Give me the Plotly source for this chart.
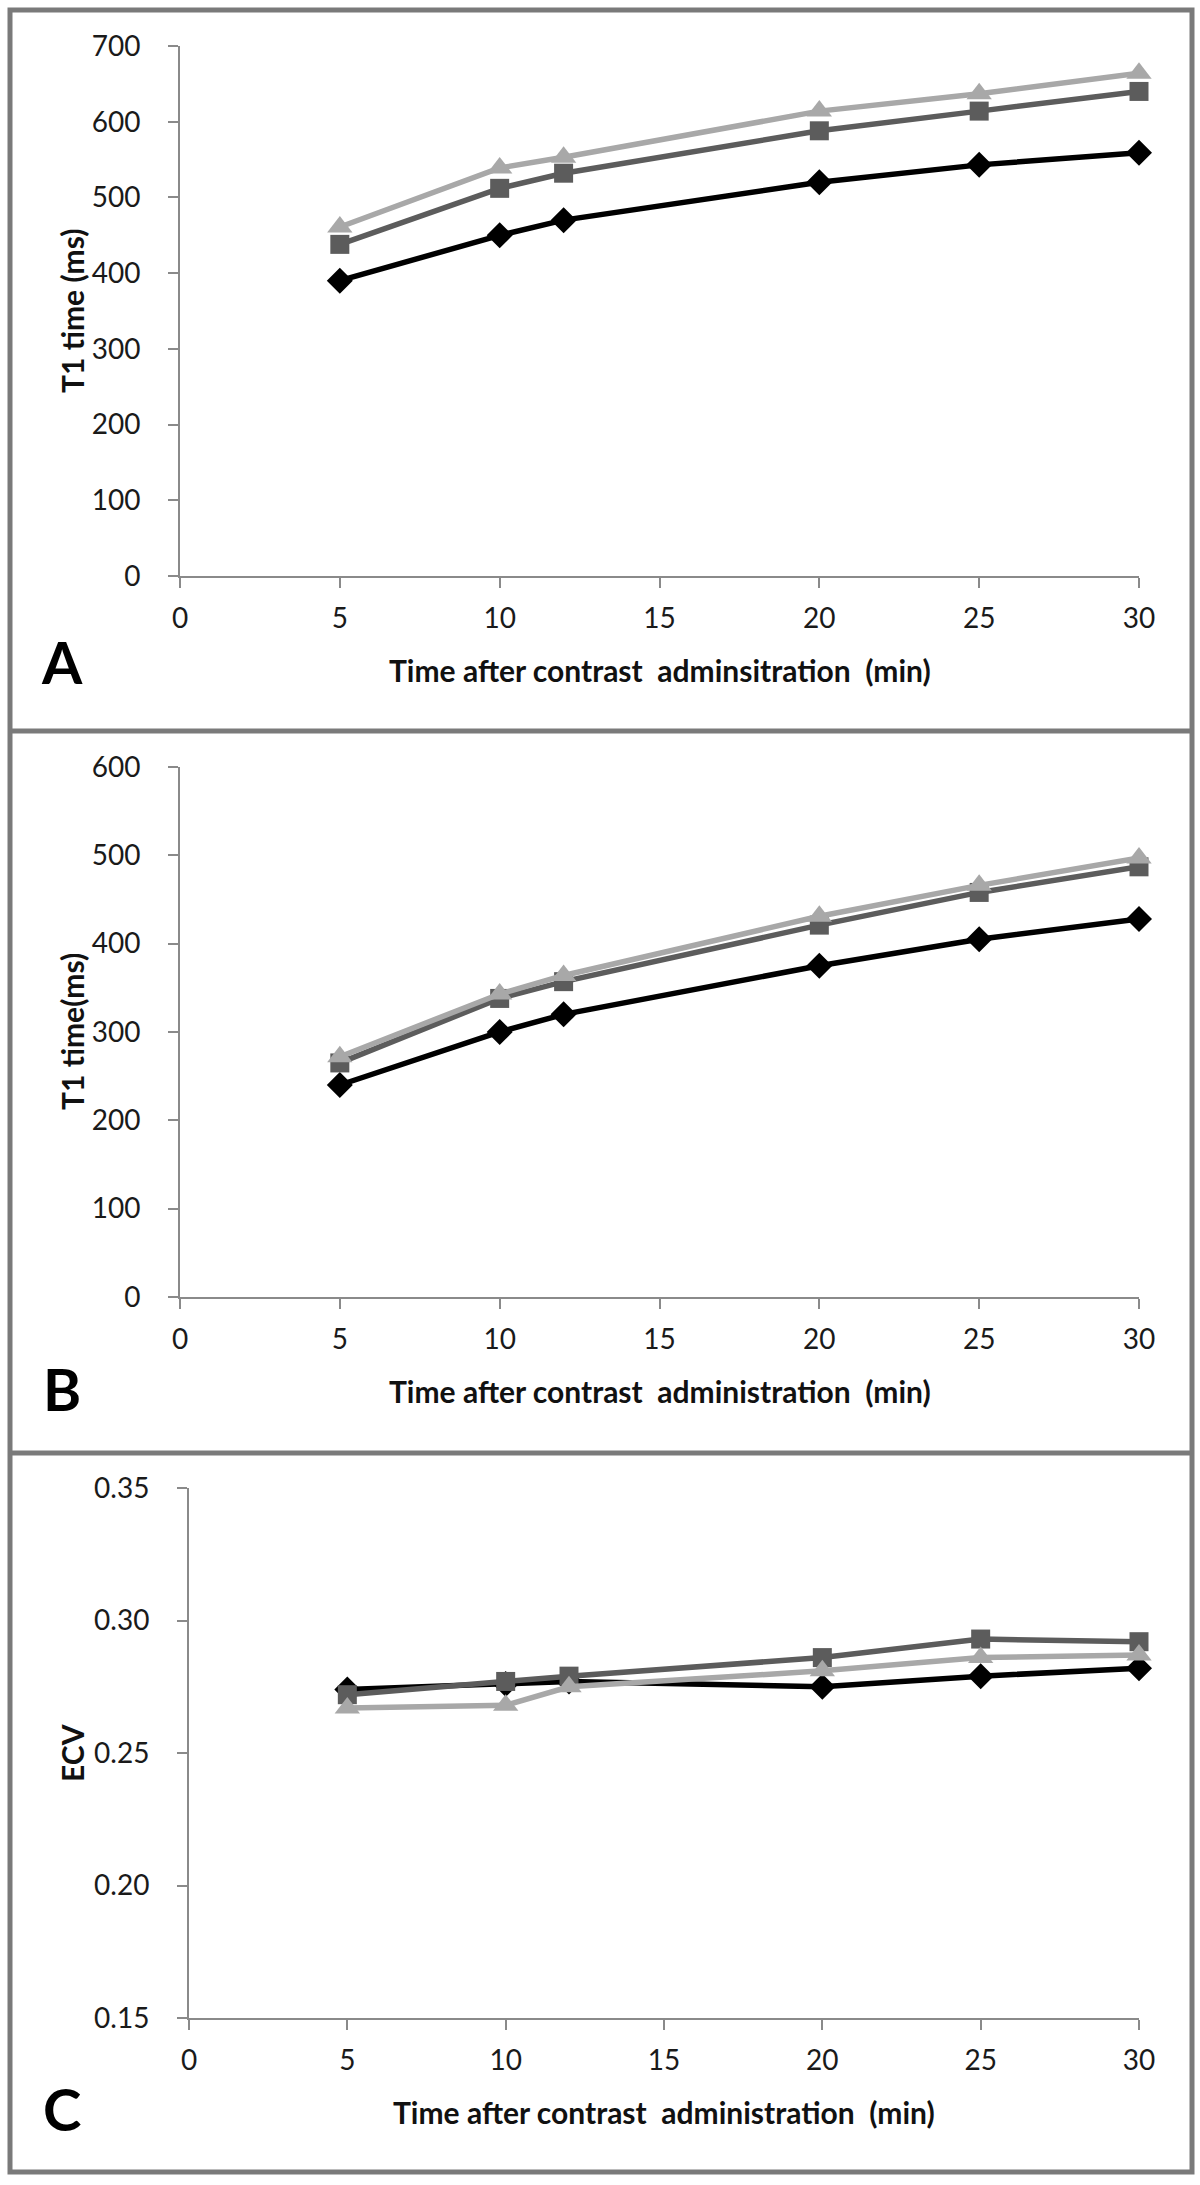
import plotly.graph_objects as go

# ---------------- data ----------------
times = [5, 10, 12, 20, 25, 30]

a_series1 = [390, 450, 470, 520, 543, 559]
a_series2 = [438, 512, 532, 588, 614, 640]
a_series3 = [461, 539, 553, 614, 637, 664]

b_series1 = [240, 300, 320, 375, 405, 428]
b_series2 = [265, 338, 357, 421, 458, 487]
b_series3 = [272, 343, 364, 431, 466, 497]

c_series1 = [0.274, 0.276, 0.277, 0.275, 0.279, 0.282]
c_series2 = [0.272, 0.277, 0.279, 0.286, 0.293, 0.292]
c_series3 = [0.267, 0.268, 0.275, 0.281, 0.286, 0.287]

panel_letters = ["A", "B", "C"]
y_titles = ["T1 time (ms)", "T1 time(ms)", "ECV"]
x_titles = ["Time after contrast  adminsitration  (min)",
            "Time after contrast  administration  (min)",
            "Time after contrast  administration  (min)"]
x_ticks = [0, 5, 10, 15, 20, 25, 30]

# ---------------- layout helpers ----------------
W, H = 1200, 2185
FONT = "Lato, 'Open Sans', sans-serif"
AX_COLOR = "#8a8a8a"
C1, C2, C3 = "#000000", "#5c5c5c", "#a8a8a8"


def px_x(p):
    return p / W


def px_y(p):
    return 1 - p / H


# plot-area pixel boxes: (left, right, top, bottom)
boxes = [(180, 1139, 46, 576), (180, 1139, 767, 1297), (189, 1139, 1488, 2018)]

fig = go.Figure()

panels = [
    (a_series1, a_series2, a_series3),
    (b_series1, b_series2, b_series3),
    (c_series1, c_series2, c_series3),
]

for i, (s1, s2, s3) in enumerate(panels):
    suf = "" if i == 0 else str(i + 1)
    common = dict(x=times, mode="lines+markers", xaxis="x" + suf, yaxis="y" + suf,
                  showlegend=False, cliponaxis=False)
    fig.add_trace(go.Scatter(y=s1, name="Series 1", line=dict(color=C1, width=5.5),
                             marker=dict(symbol="diamond", size=20, color=C1), **common))
    fig.add_trace(go.Scatter(y=s2, name="Series 2", line=dict(color=C2, width=5.5),
                             marker=dict(symbol="square", size=19, color=C2), **common))
    fig.add_trace(go.Scatter(y=s3, name="Series 3", line=dict(color=C3, width=5.5),
                             marker=dict(symbol="triangle-up", size=22, color=C3), **common))

yranges = [(0, 700, 100, None), (0, 600, 100, None), (0.15, 0.35, 0.05, ".2f")]

layout = dict(
    template="none",
    width=W, height=H, autosize=False,
    margin=dict(l=0, r=0, t=0, b=0, pad=0, autoexpand=False),
    paper_bgcolor="white", plot_bgcolor="white",
    font=dict(family=FONT, size=28, color="#1a1a1a"),
    showlegend=False,
)

annotations = []
shapes = []
TITLE_FONT = dict(family=FONT, size=30, color="#111111", weight="bold")
for i, (l, r, t, b) in enumerate(boxes):
    suf = "" if i == 0 else str(i + 1)
    y0, y1, dy, fmt = yranges[i]
    layout["xaxis" + suf] = dict(
        domain=[px_x(l), px_x(r)], anchor="y" + suf, automargin=False,
        range=[0, 30], tickmode="array", tickvals=x_ticks,
        showline=True, linecolor=AX_COLOR, linewidth=2,
        ticks="outside", ticklen=10, tickwidth=2, tickcolor=AX_COLOR,
        showgrid=False, zeroline=False,
        tickfont=dict(family=FONT, size=28, color="#1a1a1a"),
        ticklabelstandoff=6,
    )
    yax = dict(
        domain=[px_y(b), px_y(t)], anchor="x" + suf, automargin=False,
        range=[y0, y1], dtick=dy, tick0=y0, tickmode="linear",
        showline=True, linecolor=AX_COLOR, linewidth=2,
        ticks="outside", ticklen=10, tickwidth=2, tickcolor=AX_COLOR,
        showgrid=False, zeroline=False,
        tickfont=dict(family=FONT, size=28, color="#1a1a1a"),
        ticklabelstandoff=22,
    )
    if fmt:
        yax["tickformat"] = fmt
    layout["yaxis" + suf] = yax

    # axis titles as text annotations placed at measured positions
    xt_y = b + 94
    annotations.append(dict(text=x_titles[i], x=px_x((l + r) / 2), y=px_y(xt_y),
                            xref="paper", yref="paper", xanchor="center", yanchor="middle",
                            showarrow=False, font=TITLE_FONT))
    annotations.append(dict(text=y_titles[i], x=px_x(72), y=px_y((t + b) / 2),
                            xref="paper", yref="paper", xanchor="center", yanchor="middle",
                            textangle=-90, showarrow=False, font=TITLE_FONT))

letter_pos = [(62, 662), (62, 1388), (62, 2108)]
for L, (lx, ly) in zip(panel_letters, letter_pos):
    annotations.append(dict(text=L, x=px_x(lx), y=px_y(ly), xref="paper", yref="paper",
                            xanchor="center", yanchor="middle", showarrow=False,
                            font=dict(family=FONT, size=58, color="#000000", weight="bold")))

FRAME = "#7a7a7a"
shapes.append(dict(type="rect", xref="paper", yref="paper",
                   x0=px_x(10), x1=px_x(1192), y0=px_y(2172), y1=px_y(10),
                   line=dict(color=FRAME, width=5)))
for yy in (731, 1453):
    shapes.append(dict(type="line", xref="paper", yref="paper",
                       x0=px_x(10), x1=px_x(1192), y0=px_y(yy), y1=px_y(yy),
                       line=dict(color=FRAME, width=5)))

layout["annotations"] = annotations
layout["shapes"] = shapes
fig.update_layout(**layout)

fig.write_html("out.html", config={"displayModeBar": False},
               post_script="document.body.style.margin='0px';")
